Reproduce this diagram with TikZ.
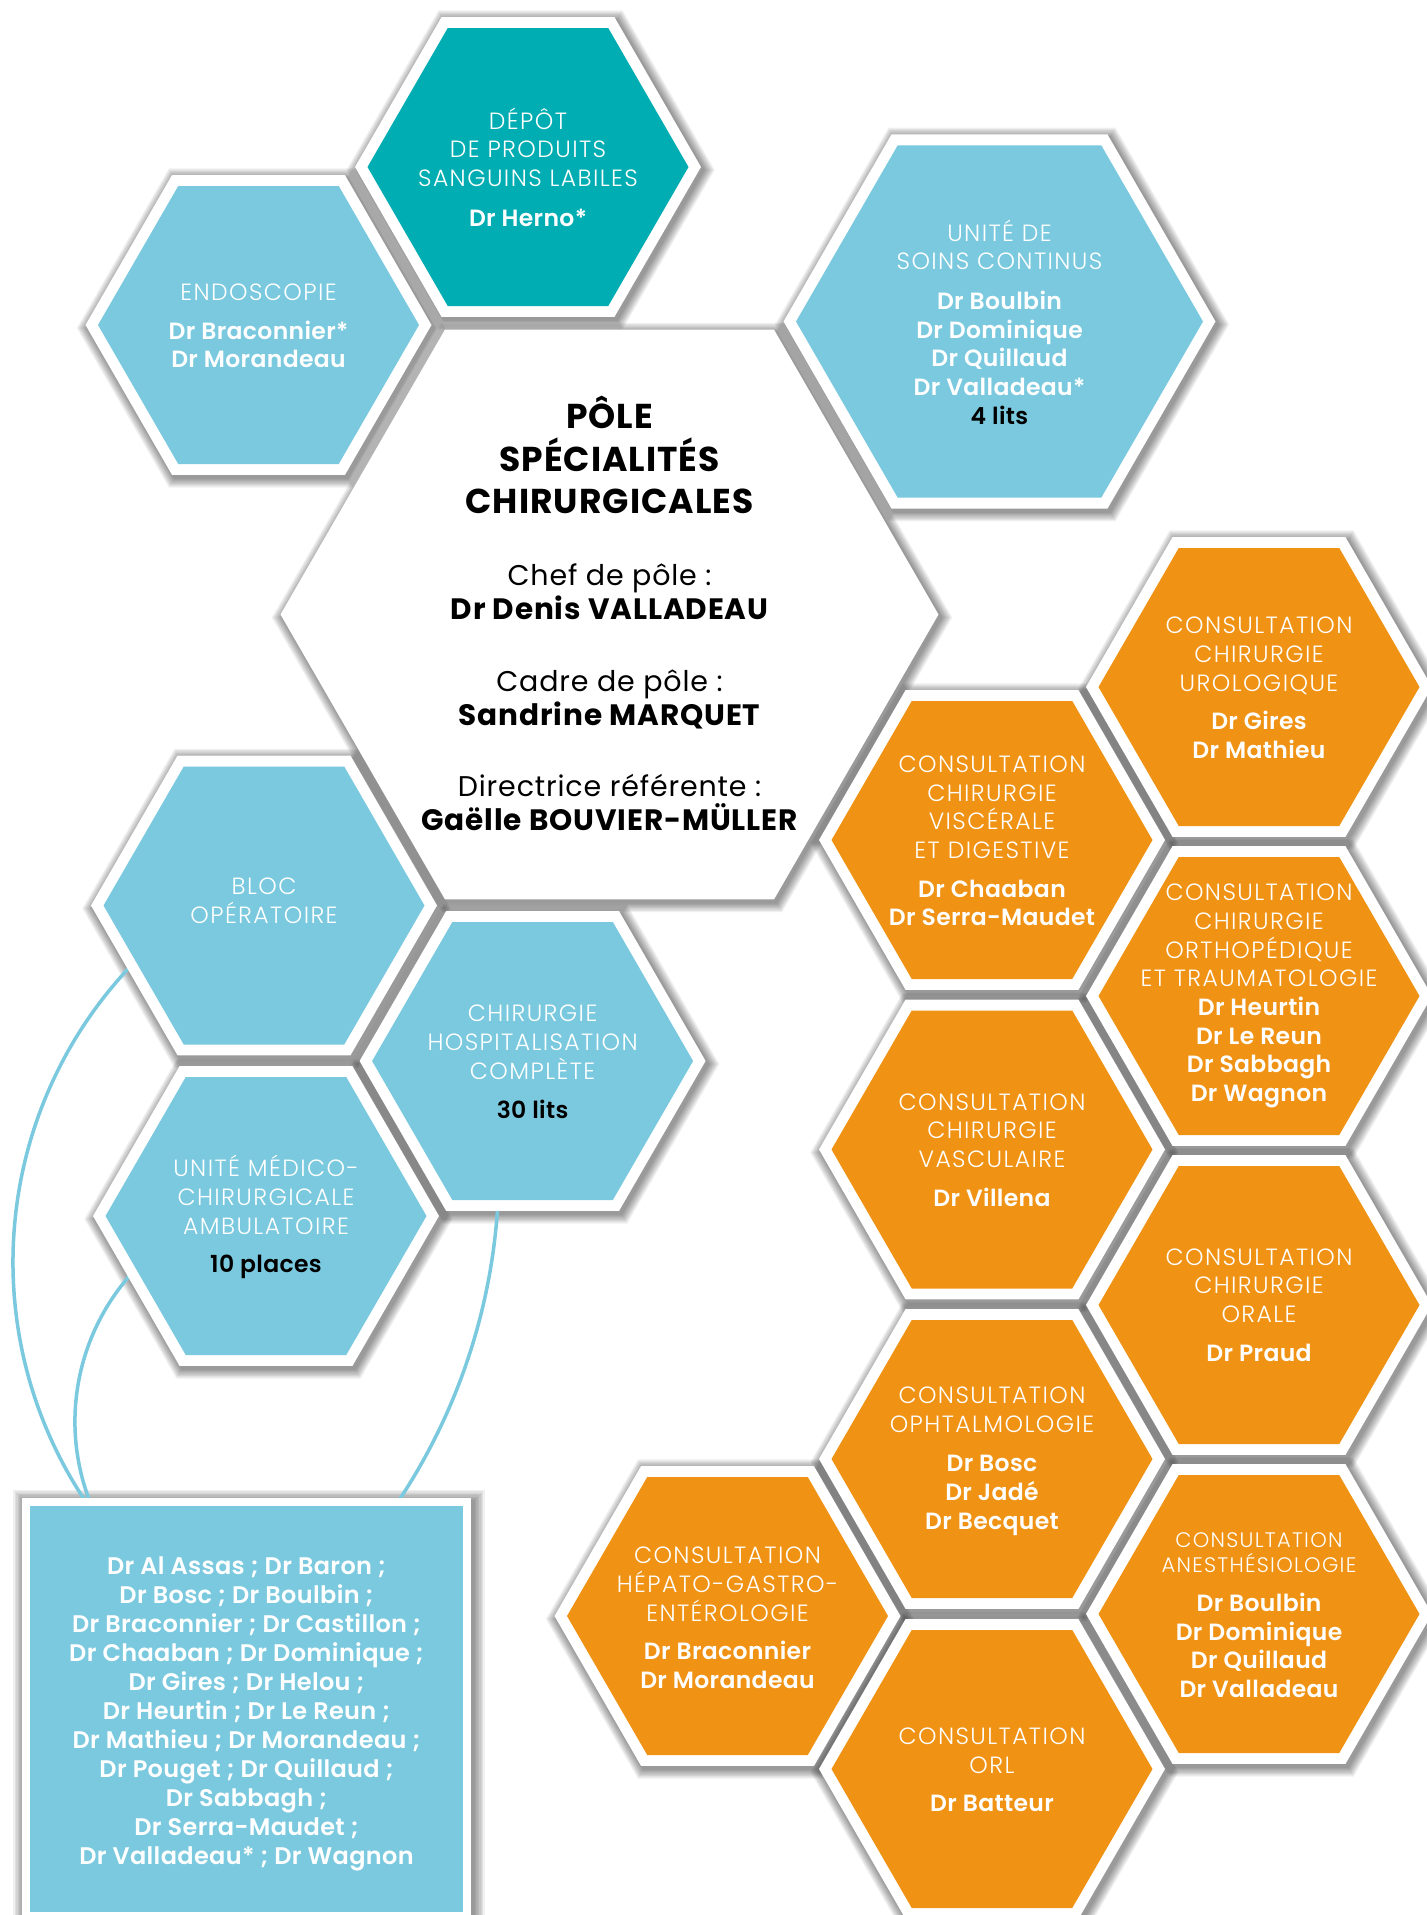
\documentclass[tikz,border=0pt]{standalone}
\usepackage{fontspec}
\setmainfont{Poppins}
\newfontfamily\lightf{Poppins Light}[LetterSpace=6]
\newfontfamily\boldf{Poppins SemiBold}[LetterSpace=1.5]
\newfontfamily\heavyf{Poppins Bold}[LetterSpace=3]
\newfontfamily\regf{Poppins}[LetterSpace=3]
\definecolor{hblue}{RGB}{122,201,223}
\definecolor{hteal}{RGB}{0,173,178}
\definecolor{horange}{RGB}{240,146,19}
\pgfdeclarelayer{bglayer}
\pgfdeclarelayer{shadowlayer}
\pgfsetlayers{bglayer,shadowlayer,main}
\newcommand\Lt[1]{{\lightf #1}}
\newcommand\Bd[1]{{\boldf #1}}
\newcommand\Bk[1]{{\boldf\color{black}#1}}
\tikzset{
  hexp/.style={insert path={(0:#1) -- (60:#1) -- (120:#1) -- (180:#1) -- (240:#1) -- (300:#1) -- cycle}},
  conn/.style={draw=hblue, line width=3.5pt},
  hextext/.style={align=center, text=white, font=\fontsize{23.5}{28.7}\selectfont, inner sep=0pt},
}
\newcommand\hexcell[5]{%
  \begin{pgfonlayer}{shadowlayer}
    \foreach \d in {1,...,8}{\fill[black, opacity=0.06, shift={(#2+2.5,#3+3)}, hexp={#4+\d*1.4}];}
  \end{pgfonlayer}
  \fill[white, shift={(#2,#3)}, hexp={#4}];
  \fill[#5, shift={(#2,#3)}, hexp={#4-12.5}];
  \coordinate (#1) at (#2,#3);
}
\begin{document}
\begin{tikzpicture}[x=1pt, y=-1pt]
\useasboundingbox (0,0) rectangle (1427,1915);
\begin{pgfonlayer}{bglayer}
\fill[white] (0,0) rectangle (1427,1915);
\end{pgfonlayer}

% connectors (behind cells)
\coordinate (a1) at (144.6,952);
\coordinate (a2) at (90.9,1509.2);
\coordinate (b1) at (140,1264.6);
\coordinate (b2) at (92.6,1508.3);
\coordinate (c1) at (498.6,1189);
\coordinate (c2) at (396.1,1504.6);
\draw[conn] (a1) .. controls (-7.9,1099.3) and (-30.7,1335.5) .. (a2);
\draw[conn] (b1) .. controls (76,1328.6) and (57.2,1425) .. (b2);
\draw[conn] (c1) .. controls (494.7,1301.7) and (459.2,1411.1) .. (c2);

% cells
\hexcell{endo}{258.5}{325}{173}{hblue}
\hexcell{dep}{528}{167}{173}{hteal}
\hexcell{usc}{999.5}{321.5}{216}{hblue}
\hexcell{centre}{609.5}{614.5}{329}{white}
\hexcell{bloc}{264}{905.5}{173}{hblue}
\hexcell{chc}{532.6}{1061}{173}{hblue}
\hexcell{umca}{266}{1216}{173}{hblue}
\hexcell{uro}{1259}{687}{173}{horange}
\hexcell{vis}{992}{840}{173}{horange}
\hexcell{ortho}{1259}{996}{173}{horange}
\hexcell{vasc}{992}{1149.5}{173}{horange}
\hexcell{orale}{1259}{1305}{173}{horange}
\hexcell{opht}{992}{1459}{173}{horange}
\hexcell{anes}{1259}{1614}{173}{horange}
\hexcell{hepato}{727.5}{1616}{173}{horange}
\hexcell{orl}{992}{1769}{173}{horange}

% list box
\begin{pgfonlayer}{shadowlayer}
  \foreach \d in {1,...,8}{\fill[black, opacity=0.06] (22+2.5-\d*1.4,1498+3-\d*1.4) rectangle (471+2.5+\d*1.4,1930);}
\end{pgfonlayer}
\fill[white] (22,1498) rectangle (471,1930);
\fill[hblue] (30,1506) rectangle (463,1912);
\coordinate (listbox) at (246.5,1709);

% texts
\node[hextext] (tdep) at (528,167) {\Lt{DÉPÔT}\\\Lt{DE PRODUITS}\\\Lt{SANGUINS LABILES}\\[11pt]\Bd{Dr Herno*}};
\node[hextext] (tendo) at (258.5,326) {\Lt{ENDOSCOPIE}\\[10pt]\Bd{Dr Braconnier*}\\\Bd{Dr Morandeau}};
\node[hextext] (tusc) at (999.5,322) {\Lt{UNITÉ DE}\\\Lt{SOINS CONTINUS}\\[11pt]\Bd{Dr Boulbin}\\\Bd{Dr Dominique}\\\Bd{Dr Quillaud}\\\Bd{Dr Valladeau*}\\\Bk{4 lits}};
\node[align=center, text=black, font=\fontsize{28.5}{34}\selectfont, inner sep=0pt] (tcentre) at (609.5,613) {%
{\heavyf\fontsize{34.5}{34}\selectfont PÔLE}\\[9pt]
{\heavyf\fontsize{34.5}{34}\selectfont SPÉCIALITÉS}\\[8pt]
{\heavyf\fontsize{34.5}{34}\selectfont CHIRURGICALES}\\[38pt]
{\regf Chef de pôle :}\\
{\heavyf\fontsize{29.5}{34}\selectfont Dr Denis VALLADEAU}\\[38pt]
{\regf Cadre de pôle :}\\
{\heavyf\fontsize{29.5}{34}\selectfont Sandrine MARQUET}\\[37pt]
{\regf Directrice référente :}\\
{\heavyf\fontsize{29.5}{34}\selectfont Gaëlle BOUVIER-MÜLLER}};
\node[hextext] (tbloc) at (264,901) {\Lt{BLOC}\\\Lt{OPÉRATOIRE}};
\node[hextext] (tchc) at (532.6,1062) {\Lt{CHIRURGIE}\\\Lt{HOSPITALISATION}\\\Lt{COMPLÈTE}\\[11pt]\Bk{30 lits}};
\node[hextext] (tumca) at (266,1217) {\Lt{UNITÉ MÉDICO-}\\\Lt{CHIRURGICALE}\\\Lt{AMBULATOIRE}\\[10pt]\Bk{10 places}};
\node[hextext] (turo) at (1259,688) {\Lt{CONSULTATION}\\\Lt{CHIRURGIE}\\\Lt{UROLOGIQUE}\\[10pt]\Bd{Dr Gires}\\\Bd{Dr Mathieu}};
\node[hextext] (tvis) at (992,841) {\Lt{CONSULTATION}\\\Lt{CHIRURGIE}\\\Lt{VISCÉRALE}\\\Lt{ET DIGESTIVE}\\[10pt]\Bd{Dr Chaaban}\\\Bd{Dr Serra-Maudet}};
\node[hextext] (tortho) at (1259,996) {\Lt{CONSULTATION}\\\Lt{CHIRURGIE}\\\Lt{ORTHOPÉDIQUE}\\\Lt{ET TRAUMATOLOGIE}\\\Bd{Dr Heurtin}\\\Bd{Dr Le Reun}\\\Bd{Dr Sabbagh}\\\Bd{Dr Wagnon}};
\node[hextext] (tvasc) at (992,1150) {\Lt{CONSULTATION}\\\Lt{CHIRURGIE}\\\Lt{VASCULAIRE}\\[10pt]\Bd{Dr Villena}};
\node[hextext] (torale) at (1259,1305) {\Lt{CONSULTATION}\\\Lt{CHIRURGIE}\\\Lt{ORALE}\\[10pt]\Bd{Dr Praud}};
\node[hextext] (topht) at (992,1461) {\Lt{CONSULTATION}\\\Lt{OPHTALMOLOGIE}\\[11pt]\Bd{Dr Bosc}\\\Bd{Dr Jadé}\\\Bd{Dr Becquet}};
\node[hextext] (tanes) at (1259,1615) {{\lightf\fontsize{21}{25.7}\selectfont CONSULTATION}\\[-3pt]{\lightf\fontsize{21}{25.7}\selectfont ANESTHÉSIOLOGIE}\\[10pt]\Bd{Dr Boulbin}\\\Bd{Dr Dominique}\\\Bd{Dr Quillaud}\\\Bd{Dr Valladeau}};
\node[hextext] (thepato) at (727.5,1618) {\Lt{CONSULTATION}\\\Lt{HÉPATO-GASTRO-}\\\Lt{ENTÉROLOGIE}\\[10pt]\Bd{Dr Braconnier}\\\Bd{Dr Morandeau}};
\node[hextext] (torl) at (992,1770) {\Lt{CONSULTATION}\\\Lt{ORL}\\[10pt]\Bd{Dr Batteur}};
\node[hextext, font=\fontsize{24}{29}\selectfont] (tlist) at (246.5,1714) {\Bd{Dr Al Assas ; Dr Baron ;}\\\Bd{Dr Bosc ; Dr Boulbin ;}\\\Bd{Dr Braconnier ; Dr Castillon ;}\\\Bd{Dr Chaaban ; Dr Dominique ;}\\\Bd{Dr Gires ; Dr Helou ;}\\\Bd{Dr Heurtin ; Dr Le Reun ;}\\\Bd{Dr Mathieu ; Dr Morandeau ;}\\\Bd{Dr Pouget ; Dr Quillaud ;}\\\Bd{Dr Sabbagh ;}\\\Bd{Dr Serra-Maudet ;}\\\Bd{Dr Valladeau* ; Dr Wagnon}};
\end{tikzpicture}
\end{document}
